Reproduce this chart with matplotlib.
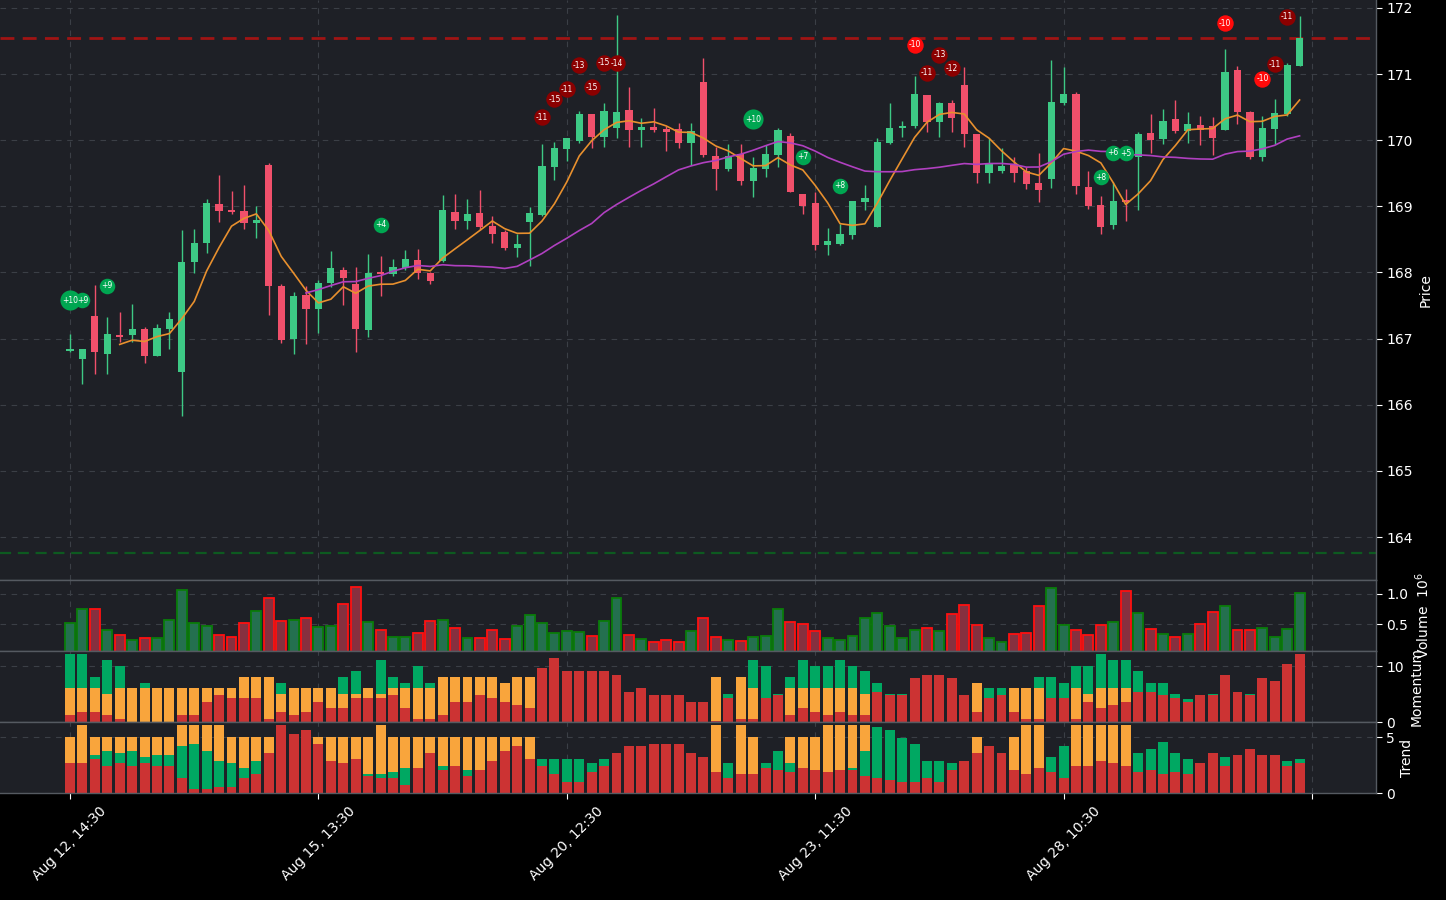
import numpy as np
import pandas as pd
import matplotlib
matplotlib.use("Agg")
import matplotlib.pyplot as plt

# ---------------- data ----------------
opens = [166.82, 166.69, 167.34, 166.77, 167.06, 167.05, 167.15, 166.74, 167.15, 166.50,
         168.16, 168.45, 169.04, 168.95, 168.93, 168.75, 169.63, 167.80, 166.99, 167.66,
         167.45, 167.84, 168.04, 167.83, 167.13, 167.99, 167.98, 168.07, 168.19, 167.99,
         168.17, 168.92, 168.78, 168.90, 168.70, 168.61, 168.37, 168.76, 168.87, 169.60,
         169.87, 169.99, 170.39, 170.05, 170.19, 170.46, 170.15, 170.20, 170.17, 170.17,
         169.96, 170.88, 169.76, 169.56, 169.79, 169.39, 169.56, 169.78, 170.06, 169.19,
         169.05, 168.42, 168.43, 168.56, 169.06, 168.69, 169.96, 170.19, 170.22, 170.68,
         170.27, 170.56, 170.84, 170.10, 169.51, 169.53, 169.64, 169.53, 169.35, 169.41,
         170.56, 170.70, 169.29, 169.02, 168.72, 169.10, 169.75, 170.11, 170.02, 170.32,
         170.14, 170.23, 170.22, 170.16, 171.06, 170.43, 169.74, 170.17, 170.40, 171.12]
highs = [167.07, 166.85, 167.81, 167.32, 167.40, 167.52, 167.17, 167.22, 167.40, 168.64,
         168.65, 169.11, 169.47, 169.23, 169.32, 169.00, 169.65, 167.82, 167.71, 167.80,
         167.89, 168.33, 168.09, 168.09, 168.28, 168.25, 168.21, 168.34, 168.36, 168.01,
         169.17, 169.19, 169.11, 169.25, 168.86, 168.64, 168.58, 168.99, 169.94, 169.98,
         170.03, 170.44, 170.39, 170.56, 171.89, 170.81, 170.33, 170.48, 170.21, 170.26,
         170.26, 171.24, 169.90, 169.95, 169.94, 169.75, 169.92, 170.19, 170.11, 169.19,
         169.22, 168.68, 168.74, 169.08, 169.32, 170.03, 170.57, 170.29, 170.97, 170.68,
         170.58, 170.61, 171.10, 170.10, 170.03, 169.88, 169.74, 169.60, 169.80, 171.21,
         171.10, 170.73, 169.53, 169.16, 169.37, 169.26, 170.12, 170.39, 170.47, 170.61,
         170.42, 170.37, 170.35, 171.38, 171.12, 170.44, 170.36, 170.63, 171.16, 171.88]
lows = [166.80, 166.31, 166.46, 166.46, 166.95, 166.95, 166.63, 166.74, 166.85, 165.83,
        167.99, 168.29, 168.76, 168.88, 168.65, 168.52, 167.35, 166.94, 166.76, 166.92,
        167.08, 167.78, 167.51, 166.80, 167.02, 167.64, 167.94, 168.04, 167.90, 167.83,
        168.16, 168.66, 168.66, 168.64, 168.45, 168.34, 168.23, 168.10, 168.85, 169.40,
        169.68, 169.96, 169.88, 169.90, 170.03, 169.90, 169.90, 170.13, 169.83, 169.88,
        169.62, 169.75, 169.24, 169.53, 169.32, 169.14, 169.45, 169.60, 169.21, 168.88,
        168.34, 168.26, 168.41, 168.50, 168.94, 168.69, 169.94, 170.05, 170.18, 170.12,
        170.05, 170.13, 169.89, 169.35, 169.36, 169.51, 169.37, 169.26, 169.07, 169.27,
        170.53, 169.18, 168.96, 168.58, 168.65, 168.78, 168.94, 169.81, 169.94, 170.11,
        169.96, 169.92, 169.77, 170.16, 170.25, 169.72, 169.69, 169.94, 170.36, 171.12]
closes = [166.83, 166.84, 166.79, 167.07, 167.03, 167.15, 166.74, 167.16, 167.30, 168.16,
          168.45, 169.05, 168.93, 168.91, 168.75, 168.79, 167.79, 166.98, 167.64, 167.45,
          167.84, 168.07, 167.92, 167.15, 167.99, 167.98, 168.08, 168.20, 167.99, 167.87,
          168.95, 168.78, 168.89, 168.69, 168.58, 168.37, 168.43, 168.90, 169.61, 169.88,
          170.03, 170.39, 170.05, 170.44, 170.43, 170.16, 170.20, 170.16, 170.13, 169.96,
          170.14, 169.77, 169.56, 169.76, 169.39, 169.58, 169.79, 170.16, 169.21, 169.01,
          168.41, 168.48, 168.58, 169.08, 169.13, 169.97, 170.19, 170.22, 170.70, 170.28,
          170.56, 170.34, 170.10, 169.51, 169.64, 169.61, 169.50, 169.34, 169.25, 170.58,
          170.70, 169.30, 169.01, 168.69, 169.08, 169.06, 170.10, 170.01, 170.29, 170.14,
          170.25, 170.16, 170.04, 171.03, 170.42, 169.75, 170.19, 170.41, 171.14, 171.55]
volume_m = [0.516, 0.747, 0.747, 0.401, 0.318, 0.236, 0.269, 0.269, 0.566, 1.061,
            0.516, 0.467, 0.318, 0.285, 0.516, 0.715, 0.929, 0.549, 0.566, 0.599,
            0.450, 0.467, 0.830, 1.111, 0.533, 0.401, 0.285, 0.285, 0.351, 0.549,
            0.566, 0.434, 0.269, 0.269, 0.401, 0.252, 0.467, 0.649, 0.516, 0.351,
            0.384, 0.368, 0.302, 0.549, 0.929, 0.318, 0.252, 0.203, 0.236, 0.203,
            0.384, 0.599, 0.285, 0.236, 0.219, 0.285, 0.302, 0.747, 0.533, 0.500,
            0.384, 0.269, 0.236, 0.302, 0.599, 0.682, 0.467, 0.269, 0.401, 0.434,
            0.384, 0.665, 0.814, 0.483, 0.269, 0.203, 0.335, 0.360, 0.797, 1.094,
            0.483, 0.401, 0.318, 0.483, 0.533, 1.045, 0.682, 0.417, 0.335, 0.285,
            0.335, 0.500, 0.698, 0.797, 0.401, 0.401, 0.434, 0.285, 0.417, 1.012]

mom_red = [1.25, 1.79, 1.79, 1.25, 0.54, 0.10, 0.10, 0.10, 0.10, 1.25,
           1.25, 3.57, 4.82, 4.29, 4.29, 4.29, 0.54, 1.79, 1.25, 1.79,
           3.57, 2.50, 2.50, 4.29, 4.29, 4.29, 4.82, 2.50, 0.54, 0.54,
           1.25, 3.57, 3.57, 4.82, 4.29, 3.57, 3.04, 2.50, 9.64, 11.43,
           9.10, 9.10, 9.10, 9.10, 8.39, 5.36, 6.07, 4.82, 4.82, 4.82,
           3.57, 3.57, 0.18, 4.29, 0.54, 0.54, 4.29, 4.82, 1.25, 2.50,
           1.79, 1.25, 1.79, 1.25, 1.25, 5.36, 4.82, 4.82, 7.86, 8.39,
           8.39, 7.86, 4.82, 1.79, 4.29, 4.82, 1.79, 0.54, 0.54, 4.29,
           4.29, 0.54, 3.57, 2.50, 3.04, 3.57, 5.36, 5.36, 4.82, 4.29,
           3.57, 4.82, 4.82, 8.39, 5.36, 4.82, 7.86, 7.32, 10.36, 12.14]
mom_orange = [4.82, 4.28, 4.28, 3.75, 5.53, 5.97, 5.97, 5.97, 5.97, 4.82,
              4.82, 2.50, 1.25, 1.78, 3.75, 3.75, 7.50, 3.21, 4.82, 4.28,
              2.50, 3.57, 2.50, 0.71, 1.78, 0.71, 1.25, 3.57, 5.53, 5.53,
              6.79, 4.47, 4.47, 3.22, 3.75, 3.39, 5.00, 5.54, 0, 0,
              0, 0, 0, 0, 0, 0, 0, 0, 0, 0,
              0, 0, 7.86, 0, 7.50, 5.53, 0, 0, 4.82, 3.57,
              4.28, 4.82, 4.28, 4.82, 3.75, 0, 0, 0, 0, 0,
              0, 0, 0, 5.17, 0, 0, 4.28, 5.53, 5.53, 0,
              0, 5.53, 1.43, 3.57, 3.03, 2.50, 0, 0, 0, 0,
              0, 0, 0, 0, 0, 0, 0, 0, 0, 0]
mom_green = [6.07, 6.07, 1.97, 6.07, 3.93, 0, 0.89, 0, 0, 0,
             0, 0, 0, 0, 0, 0, 0, 1.96, 0, 0,
             0, 0, 3.04, 4.10, 0, 6.07, 1.97, 0.89, 3.93, 0.89,
             0, 0, 0, 0, 0, 0, 0, 0, 0, 0,
             0, 0, 0, 0, 0, 0, 0, 0, 0, 0,
             0, 0, 0, 0.71, 0, 5.00, 5.71, 0.18, 1.97, 5.00,
             3.93, 3.93, 5.00, 3.93, 4.10, 1.60, 0.18, 0.18, 0, 0,
             0, 0, 0, 0, 1.78, 1.25, 0, 0, 1.97, 3.75,
             2.67, 3.93, 5.00, 6.07, 5.00, 5.00, 3.74, 1.60, 2.14, 0.71,
             0.54, 0, 0.18, 0, 0, 0.18, 0, 0, 0, 0]

trend_red = [2.71, 2.71, 3.07, 2.44, 2.71, 2.44, 2.71, 2.44, 2.44, 1.37,
             0.39, 0.39, 0.57, 0.57, 1.37, 1.73, 3.60, 6.10, 5.30, 5.65,
             4.40, 2.89, 2.71, 3.07, 1.55, 1.37, 1.37, 0.74, 2.26, 3.60,
             2.08, 2.44, 1.55, 2.08, 2.89, 3.78, 4.23, 3.07, 2.44, 1.73,
             1.01, 1.01, 1.90, 2.44, 3.60, 4.23, 4.23, 4.40, 4.40, 4.40,
             3.60, 3.24, 1.90, 1.37, 1.73, 1.73, 2.26, 2.08, 1.90, 2.26,
             2.08, 1.90, 2.08, 2.08, 1.55, 1.37, 1.19, 1.01, 1.01, 1.37,
             1.01, 2.08, 2.89, 3.60, 4.23, 3.60, 2.08, 1.73, 2.26, 1.90,
             1.37, 2.44, 2.44, 2.89, 2.71, 2.44, 1.90, 2.08, 1.73, 1.90,
             1.73, 2.71, 3.60, 2.44, 3.42, 3.96, 3.42, 3.42, 2.44, 2.71]
trend_green = [0, 0, 0.35, 1.34, 0.89, 1.34, 0.53, 0.98, 0.98, 2.86,
               4.01, 3.39, 2.32, 2.14, 0.89, 1.16, 0, 0, 0, 0,
               0, 0, 0, 0, 0.18, 0.36, 0.53, 1.52, 0, 0,
               0.36, 0, 0.53, 0, 0, 0, 0, 0, 0.63, 1.34,
               2.06, 2.06, 0.81, 0.63, 0, 0, 0, 0, 0, 0,
               0, 0, 0, 1.34, 0, 0, 0.45, 1.70, 0.81, 0,
               0, 0, 0, 0.18, 2.23, 4.55, 4.46, 3.93, 3.39, 1.52,
               1.88, 0.63, 0, 0, 0, 0, 0, 0, 0, 1.34,
               2.86, 0, 0, 0, 0, 0, 1.70, 1.88, 2.85, 1.70,
               1.34, 0, 0, 0.80, 0, 0, 0, 0, 0.45, 0.36]
trend_orange = [2.32, 3.39, 1.61, 1.25, 1.43, 1.25, 1.79, 1.61, 1.61, 1.87,
                1.70, 2.32, 3.21, 2.32, 2.77, 2.14, 1.43, 0, 0, 0,
                0.63, 2.14, 2.32, 1.96, 3.30, 4.37, 3.13, 2.77, 2.77, 1.43,
                2.59, 2.59, 2.95, 2.95, 2.14, 1.25, 0.80, 1.96, 0, 0,
                0, 0, 0, 0, 0, 0, 0, 0, 0, 0,
                0, 0, 4.20, 0, 4.37, 3.30, 0, 0, 2.32, 2.77,
                2.95, 4.20, 4.02, 3.84, 2.32, 0, 0, 0, 0, 0,
                0, 0, 0, 1.43, 0, 0, 2.95, 4.37, 3.84, 0,
                0, 3.66, 3.66, 3.21, 3.39, 3.66, 0, 0, 0, 0,
                0, 0, 0, 0, 0, 0, 0, 0, 0, 0]

# signal markers: candle index, price level, label
buy_idx = [0, 1, 3, 25, 55, 59, 62, 83, 84, 85]
buy_price = [167.58, 167.58, 167.80, 168.72, 170.32, 169.75, 169.31, 169.44, 169.81, 169.80]
buy_label = ["+10", "+9", "+9", "+4", "+10", "+7", "+8", "+8", "+6", "+5"]
sell_idx = [38, 39, 40, 41, 42, 43, 44, 68, 69, 70, 71, 93, 96, 97, 98]
sell_price = [170.35, 170.62, 170.77, 171.13, 170.80, 171.17, 171.16,
              171.44, 171.02, 171.29, 171.09, 171.77, 170.93, 171.15, 171.87]
sell_label = ["-11", "-15", "-11", "-13", "-15", "-15", "-14",
              "-10", "-11", "-13", "-12", "-10", "-10", "-11", "-11"]

resistance = 171.55
support = 163.76

tick_pos = [0, 20, 40, 60, 80, 100]
tick_labels = ["Aug 12, 14:30", "Aug 15, 13:30", "Aug 20, 12:30",
               "Aug 23, 11:30", "Aug 28, 10:30", ""]

# ---------------- styling ----------------
BG = "#1e2026"
GRID = "#3b3f46"
SPINE = "#555a61"
UP = "#3dc985"
DOWN = "#f0506b"
C_RED = "#cc3333"
C_ORG = "#f9a53c"
C_GRN = "#00a862"

n = len(closes)
x = np.arange(n)
o = np.array(opens); c = np.array(closes); h = np.array(highs); l = np.array(lows)
up = c >= o

fig = plt.figure(figsize=(14.46, 9), dpi=100, facecolor="black")
W = 0.9514
ax = fig.add_axes([0, 0.35556, W, 0.64444])
axv = fig.add_axes([0, 0.27633, W, 0.07922], sharex=ax)
axm = fig.add_axes([0, 0.19744, W, 0.07889], sharex=ax)
axt = fig.add_axes([0, 0.11856, W, 0.07889], sharex=ax)

for a in (ax, axv, axm, axt):
    a.set_facecolor(BG)
    a.grid(True, color=GRID, linestyle=(0, (5, 5)), linewidth=0.8)
    a.set_axisbelow(True)
    a.yaxis.tick_right()
    a.yaxis.set_label_position("right")
    a.tick_params(axis="y", colors="white", labelsize=10, length=4)
    a.tick_params(axis="x", colors="white", labelsize=10, length=4)
    for s in a.spines.values():
        s.set_color(SPINE)
        s.set_linewidth(1.0)
    a.spines["left"].set_visible(False)
ax.spines["top"].set_visible(False)

# candles
col = np.where(up, UP, DOWN)
ax.vlines(x, l, h, colors=col, linewidth=1.0, zorder=2)
body_bottom = np.minimum(o, c)
body_h = np.maximum(np.abs(c - o), 0.02)
ax.bar(x, body_h, bottom=body_bottom, width=0.58, color=col, linewidth=0, zorder=3)

# moving averages
cs = pd.Series(closes)
ax.plot(x, cs.rolling(5).mean(), color="#e8902e", linewidth=1.2, zorder=4)
ax.plot(x, cs.rolling(20).mean(), color="#b040c0", linewidth=1.2, zorder=4)

# support / resistance
ax.axhline(resistance, color="#a01414", linestyle=(0, (5, 3)), linewidth=2.0, zorder=1)
ax.axhline(support, color="#0d5a20", linestyle=(0, (5, 3)), linewidth=1.6, zorder=1)

# signal markers
for i, p, t in zip(buy_idx, buy_price, buy_label):
    big = t == "+10"
    ax.scatter(i, p, s=210 if big else 125, color="#00a651", zorder=6, linewidths=0)
    ax.text(i, p, t, color="white", fontsize=5.5, ha="center", va="center", zorder=7)
for i, p, t in zip(sell_idx, sell_price, sell_label):
    fc = "#ff0a0a" if t == "-10" else "#8b0000"
    ax.scatter(i, p, s=140, color=fc, zorder=6, linewidths=0)
    ax.text(i, p, t, color="white", fontsize=5.5, ha="center", va="center", zorder=7)

ax.set_ylim(163.35, 172.12)
ax.set_yticks(range(164, 173))
ax.set_ylabel("Price", color="white", fontsize=10)

# volume
vcol_face = np.where(up, "#24704f", "#86303f")
vcol_edge = np.where(up, "#0a7d0a", "#ff1010")
axv.bar(x, volume_m, width=0.8, color=vcol_face, edgecolor=vcol_edge, linewidth=1.3)
axv.set_ylim(0.054, 1.226)
axv.set_yticks([0.5, 1.0])
axv.set_ylabel(r"Volume  $10^6$", color="white", fontsize=10)

# momentum
mr = np.array(mom_red); mo = np.array(mom_orange); mg = np.array(mom_green)
axm.bar(x, mr, width=0.8, color=C_RED, linewidth=0)
axm.bar(x, mo, bottom=mr, width=0.8, color=C_ORG, linewidth=0)
axm.bar(x, mg, bottom=mr + mo, width=0.8, color=C_GRN, linewidth=0)
axm.set_ylim(0, 12.68)
axm.set_yticks([0, 10])
axm.set_ylabel("Momentum", color="white", fontsize=10)

# trend
tr = np.array(trend_red); tg = np.array(trend_green); to = np.array(trend_orange)
axt.bar(x, tr, width=0.8, color=C_RED, linewidth=0)
axt.bar(x, tg, bottom=tr, width=0.8, color=C_GRN, linewidth=0)
axt.bar(x, to, bottom=tr + tg, width=0.8, color=C_ORG, linewidth=0)
axt.set_ylim(0, 6.34)
axt.set_yticks([0, 5])
axt.set_ylabel("Trend", color="white", fontsize=10)

ax.set_xlim(-5.64, 105.13)
axt.set_xticks(tick_pos)
axt.set_xticklabels(tick_labels, rotation=45, ha="center")
for a in (ax, axv, axm):
    a.tick_params(axis="x", which="both", bottom=False, labelbottom=False)

fig.savefig("out.png", dpi=100, facecolor="black")
